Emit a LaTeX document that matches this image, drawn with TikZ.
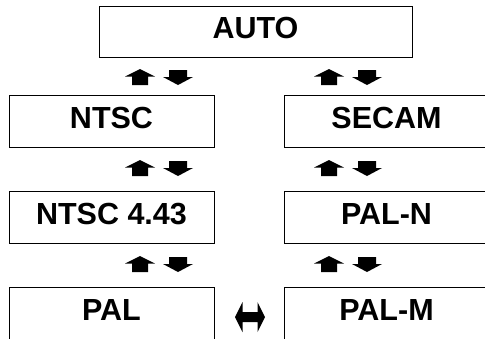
\documentclass[tikz,border=0pt]{standalone}
\usepackage{fontspec}
\setmainfont{Liberation Sans}
\begin{document}
\begin{tikzpicture}[x=1pt,y=-1pt,
  box/.style={draw=black,line width=1pt,minimum width=205pt,minimum height=52pt,inner sep=0pt,
    font=\fontsize{30.5}{36}\selectfont\bfseries,text height=22pt,text depth=8pt},
  rbox/.style={box,minimum width=225pt},
  uparr/.pic={\fill (0,-8) -- (15,-0.5) -- (8,-0.5) -- (8,8) -- (-8,8) -- (-8,-0.5) -- (-15,-0.5) -- cycle;},
  downarr/.pic={\fill (-9,-7) -- (9,-7) -- (9,0) -- (15,0) -- (0,8) -- (-15,0) -- (-9,0) -- cycle;},
  dblarr/.pic={\fill (-15,0) -- (-7.5,-15) -- (-7.5,-5) -- (7.5,-5) -- (7.5,-15) -- (15,0) -- (7.5,15) -- (7.5,5) -- (-7.5,5) -- (-7.5,15) -- cycle;}
  ]
\useasboundingbox (0,0) rectangle (485,338);
\clip (0,0) rectangle (485,338);
\node[box,minimum width=313pt,minimum height=51pt] (auto) at (255.5,31.5) {AUTO};
\node[box] (ntsc) at (111.5,121) {NTSC};
\node[box] (ntsc443) at (111.5,217) {NTSC 4.43};
\node[box] (pal) at (111.5,313) {PAL};
\node[rbox] (secam) at (396.5,121) {SECAM\hspace*{20pt}};
\node[rbox] (paln) at (396.5,217) {PAL-N\hspace*{20pt}};
\node[rbox] (palm) at (396.5,313) {PAL-M\hspace*{20pt}};
\foreach \y in {77,168,264} {
  \pic at (140,\y) {uparr};
  \pic at (178,\y) {downarr};
  \pic at (329,\y) {uparr};
  \pic at (367,\y) {downarr};
}
\pic at (250,317) {dblarr};
\end{tikzpicture}
\end{document}
